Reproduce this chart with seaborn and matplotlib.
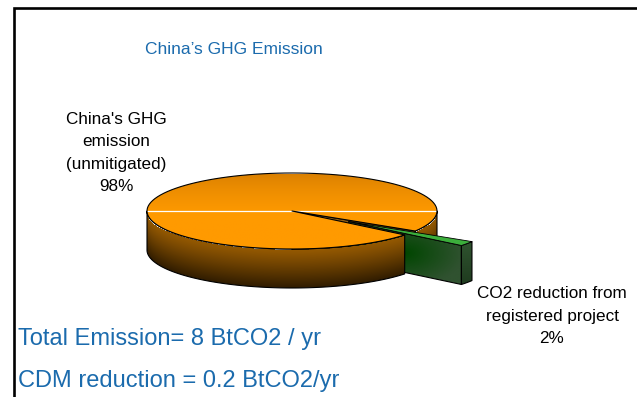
import numpy as np
import matplotlib
matplotlib.use("Agg")
import matplotlib.pyplot as plt
from matplotlib.patches import Polygon
import seaborn as sns

# ---- data -------------------------------------------------------------
categories = ["China's GHG\nemission\n(unmitigated)",
              "CO2 reduction from\nregistered project"]
shares = [98, 2]                 # percent of total emission
explode = [0.0, 0.48]            # radial pull-out of each slice
title = "China\u2019s GHG Emission"
notes = ["Total Emission= 8 BtCO2 / yr", "CDM reduction = 0.2 BtCO2/yr"]

# ---- style ------------------------------------------------------------
sns.set_theme(style="white")
plt.rcParams["font.family"] = ["Liberation Sans", "DejaVu Sans"]
BLUE = "#1b6bad"

W, H = 637, 397
fig = plt.figure(figsize=(W / 100, H / 100), dpi=100)
ax = fig.add_axes([0, 0, 1, 1])
ax.set_axis_off()

# pie geometry (pixel space of the figure)
CX, CY = 292.0, 211.0
RX, RY = 145.0, 38.0
DEPTH = 39.0
START = -31.8


def to_screen(u, v, off, z=0.0):
    return CX + RX * (u + off[0]), CY - RY * (v + off[1]) + z


def arc(a0, a1, off, z=0.0, n=120):
    t = np.radians(np.linspace(a0, a1, n))
    xs, ys = to_screen(np.cos(t), np.sin(t), off, z)
    return list(zip(xs, ys))


def lerp(c0, c1, t):
    c0 = np.array(c0, float) / 255.0
    c1 = np.array(c1, float) / 255.0
    t = np.clip(t, 0, 1)[..., None]
    return c0 + (c1 - c0) * t


def shaded(verts, colorfn, z, outline=True, lw=0.8):
    verts = np.asarray(verts)
    clip = Polygon(verts, closed=True, facecolor="none", edgecolor="none")
    ax.add_patch(clip)
    x0, x1 = np.floor(verts[:, 0].min()) - 1, np.ceil(verts[:, 0].max()) + 1
    y0, y1 = np.floor(verts[:, 1].min()) - 1, np.ceil(verts[:, 1].max()) + 1
    gx, gy = np.meshgrid(np.linspace(x0, x1, int(x1 - x0) * 2 + 2),
                         np.linspace(y0, y1, int(y1 - y0) * 2 + 2))
    im = ax.imshow(colorfn(gx, gy), extent=(x0, x1, y1, y0), origin="upper",
                   interpolation="bilinear", aspect="auto", zorder=z)
    im.set_clip_path(clip)
    if outline:
        ax.add_patch(Polygon(verts, closed=True, fill=False, edgecolor="black",
                             lw=lw, zorder=z + 0.05, joinstyle="round"))
    return clip


def front_rim_y(gx, off):
    u = (gx - CX) / RX - off[0]
    return CY - RY * off[1] + RY * np.sqrt(np.clip(1 - u ** 2, 0, 1))


# slice angle bounds from the shares
fr = np.array(shares, float) / sum(shares)
bounds = START + 360 * np.concatenate([[0], np.cumsum(fr)])
slices = []
for i in range(len(shares)):
    a0, a1 = bounds[i], bounds[i + 1]
    mid = np.radians((a0 + a1) / 2)
    off = (explode[i] * np.cos(mid), explode[i] * np.sin(mid))
    slices.append((a0, a1, off))


def front_ranges(a0, a1):
    out = []
    for k in (-1, 0, 1):
        lo, hi = max(a0, 180 + 360 * k), min(a1, 360 + 360 * k)
        if hi > lo:
            out.append((lo, hi))
    return out


def wall_poly(lo, hi, off):
    return arc(lo, hi, off) + arc(lo, hi, off, DEPTH)[::-1]


def cut_poly(a, off):
    ax0, ay0 = to_screen(0, 0, off)
    r = np.radians(a)
    rx, ry = to_screen(np.cos(r), np.sin(r), off)
    return [(ax0, ay0), (rx, ry), (rx, ry + DEPTH), (ax0, ay0 + DEPTH)]


def top_poly(a0, a1, off):
    return [to_screen(0, 0, off)] + arc(a0, a1, off)


# ---- colour functions ----------------------------------------------------
def orange_top(gx, gy):
    t = (gy - (CY - RY)) / (RY * 1.1)
    return lerp((212, 124, 0), (255, 154, 0), t ** 0.6)


def orange_wall_fn(off):
    def f(gx, gy):
        t = (gy - front_rim_y(gx, off)) / DEPTH
        return lerp((150, 90, 2), (48, 28, 0), t ** 1.1)
    return f


def orange_cut(gx, gy):
    t = (gy - gy.min()) / DEPTH
    return lerp((165, 112, 30), (90, 55, 5), t)


def green_cut(gx, gy):
    cx = (gx.min() + gx.max()) / 2
    d = np.hypot((gx - cx) / (gx.max() - gx.min() + 1),
                 (gy - (gy.min() + gy.max()) / 2) / (gy.max() - gy.min() + 1))
    return lerp((0, 70, 0), (48, 82, 48), d * 2.0)


def green_wall(gx, gy):
    t = (gy - gy.min()) / (gy.max() - gy.min())
    return lerp((48, 84, 48), (30, 58, 30), t)


def green_top(gx, gy):
    return lerp((60, 175, 60), (60, 175, 60), gx * 0)


# ---- draw the 3-D pie --------------------------------------------------------
(o0, o1, ooff), (g0, g1, goff) = slices

# cut face of the big slice seen through the gap
shaded(cut_poly(o0, ooff), orange_cut, 2)
# wall of the big slice on the far side of the gap
wall_ranges = front_ranges(o0, o1)
for lo, hi in wall_ranges:
    if hi <= 0 or lo < 0 <= hi:
        shaded(wall_poly(lo, hi, ooff), orange_wall_fn(ooff), 2.5)

# pulled-out small slice
shaded(cut_poly(g0, goff), green_cut, 3)
for lo, hi in front_ranges(g0, g1):
    shaded(wall_poly(lo, hi, goff), green_wall, 3.2)
shaded(top_poly(g0, g1, goff), green_top, 3.4, lw=0.6)

# main wall of the big slice
for lo, hi in wall_ranges:
    if lo >= 180:
        shaded(wall_poly(lo, hi, ooff), orange_wall_fn(ooff), 4)

# top face of the big slice with its highlight line
clip = shaded(top_poly(o0, o1, ooff), orange_top, 5)
hl, = ax.plot([CX - RX, CX + RX], [CY, CY], color="white", lw=0.9, zorder=5.02)
hl.set_clip_path(clip)

# ---- labels -------------------------------------------------------------------
ax.text(234, 54, title, color=BLUE, fontsize=12.5, ha="center", va="baseline")

label_pos = [(116, 153), (552, 316)]
for cat, val, (lx, ly) in zip(categories, shares, label_pos):
    ax.text(lx, ly, f"{cat}\n{val:.0f}%", fontsize=12.3, color="black",
            ha="center", va="center", linespacing=1.6, zorder=6)

ax.text(18, 345, notes[0], color=BLUE, fontsize=17, ha="left", va="baseline")
ax.text(18, 387, notes[1], color=BLUE, fontsize=17, ha="left", va="baseline")

# frame
ax.plot([14, 14, 645], [405, 8, 8], color="black", lw=1.9,
        solid_joinstyle="miter", clip_on=False, zorder=7)

ax.set_xlim(0, W)
ax.set_ylim(H, 0)
fig.savefig("out.png", dpi=100, facecolor="white")
